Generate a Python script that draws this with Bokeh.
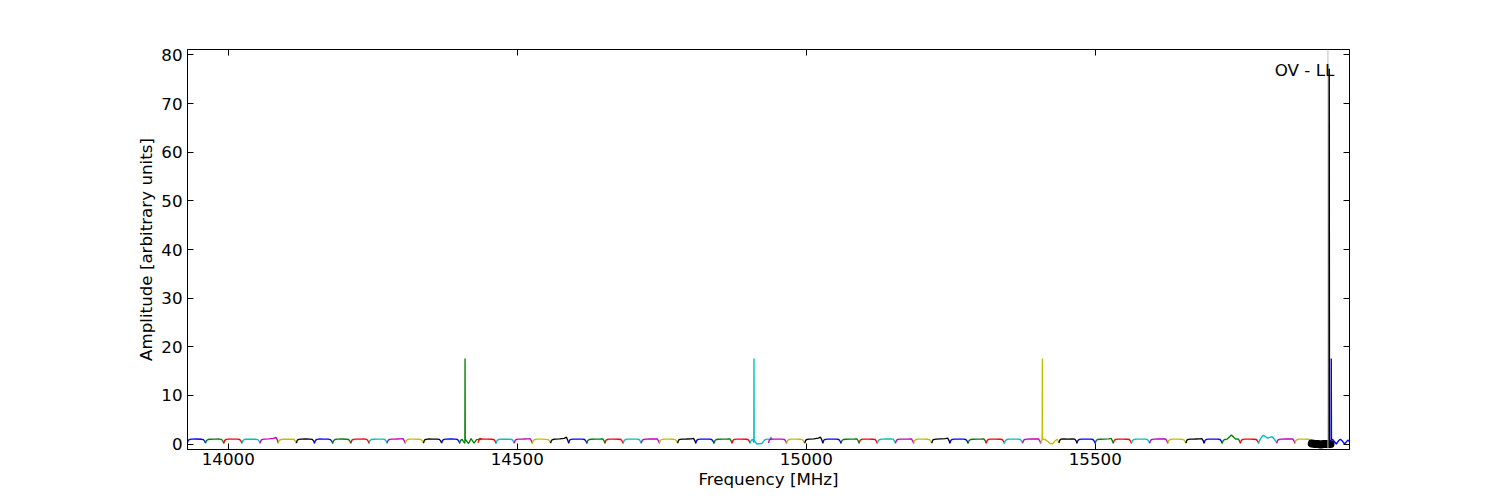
from bokeh.plotting import figure
from bokeh.models import Range1d, LinearAxis, FixedTicker, Span, Label
from bokeh.embed import file_html
from bokeh.resources import INLINE

FONT = "DejaVu Sans"
FS = "16.7px"

# ---------------- data ----------------
x_ticks = [14000, 14500, 15000, 15500]
y_ticks = [0, 10, 20, 30, 40, 50, 60, 70, 80]
x_lim = [13929.4, 15939.8]
y_lim = [-1.13, 81.13]

band_start = 13929.4   # MHz, lower edge of the first sub-band
band_width = 31.41     # MHz, sub-band width
cycle_colors = ["#0000ff", "#008000", "#ff0000", "#00bfbf", "#bf00bf", "#bfbf00", "#000000"]

# channel positions inside one sub-band (MHz from its lower edge)
chan_offsets = [0.0, 1.5, 4.0, 8.0, 15.7, 23.4, 27.4, 29.9, 31.41]

# amplitude of each regular sub-band at chan_offsets (None = listed separately below)
band_amps = [
    [0.30, 0.80, 0.95, 1.00, 1.02, 0.98, 0.90, 0.55, 0.15],  # 0
    [0.20, 0.70, 0.92, 0.98, 1.00, 1.02, 0.95, 0.60, 0.10],
    [0.15, 0.75, 0.95, 1.00, 1.00, 1.00, 0.92, 0.55, 0.10],
    [0.20, 0.70, 0.93, 1.00, 0.98, 0.97, 0.90, 0.55, 0.12],
    [0.20, 0.75, 0.95, 1.00, 1.05, 1.15, 1.35, 0.80, 0.15],
    [0.15, 0.70, 0.90, 0.98, 1.00, 0.98, 0.92, 0.55, 0.10],
    [0.20, 0.80, 0.95, 1.00, 1.02, 1.00, 0.95, 0.60, 0.12],
    [0.20, 0.75, 0.95, 1.02, 1.00, 1.00, 0.90, 0.55, 0.12],
    [0.15, 0.70, 0.93, 1.00, 1.02, 0.98, 0.92, 0.55, 0.10],
    [0.20, 0.75, 0.95, 1.00, 1.00, 1.02, 0.95, 0.60, 0.12],
    [0.15, 0.70, 0.92, 0.98, 1.00, 1.00, 0.93, 0.55, 0.10],  # 10
    [0.20, 0.75, 0.95, 1.00, 1.02, 1.05, 1.10, 0.60, 0.12],
    [0.20, 0.70, 0.92, 1.00, 1.00, 0.98, 0.90, 0.55, 0.12],
    [0.20, 0.80, 0.95, 1.02, 1.00, 1.00, 0.95, 0.60, 0.15],
    [0.20, 0.75, 0.95, 1.00, 1.02, 1.00, 0.92, 0.55, 0.10],
    None,                                                      # 15 (spike)
    [0.25, 0.80, 1.05, 1.02, 1.00, 0.98, 0.92, 0.55, 0.10],
    [0.15, 0.70, 0.92, 0.98, 1.00, 0.98, 0.92, 0.55, 0.10],
    [0.20, 0.75, 0.95, 1.00, 1.02, 1.05, 1.08, 0.60, 0.12],
    [0.20, 0.70, 0.92, 1.00, 1.00, 0.95, 0.90, 0.50, 0.10],
    [0.20, 0.75, 0.92, 1.00, 1.05, 1.15, 1.40, 0.70, 0.12],  # 20
    [0.20, 0.80, 0.95, 1.00, 1.00, 1.00, 0.92, 0.55, 0.10],
    [0.15, 0.70, 0.93, 0.98, 1.00, 1.02, 1.05, 0.60, 0.12],
    [0.20, 0.75, 0.95, 1.00, 1.00, 0.98, 0.92, 0.55, 0.10],
    [0.15, 0.70, 0.92, 1.00, 1.00, 1.00, 0.92, 0.55, 0.12],
    [0.20, 0.75, 0.95, 1.00, 1.02, 1.02, 1.05, 0.60, 0.12],
    [0.20, 0.75, 0.93, 1.00, 1.00, 0.98, 0.90, 0.50, 0.10],
    [0.20, 0.80, 0.95, 1.00, 1.02, 1.05, 1.15, 0.65, 0.12],
    [0.20, 0.75, 0.95, 1.00, 1.00, 1.00, 0.92, 0.55, 0.10],
    [0.15, 0.70, 0.92, 0.98, 1.00, 1.02, 1.05, 0.60, 0.12],
    [0.20, 0.75, 0.95, 1.00, 1.00, 0.98, 0.92, 0.55, 0.10],  # 30
    None,                                                      # 31 (spike)
    [0.20, 0.80, 1.05, 1.00, 1.00, 1.00, 0.95, 0.60, 0.12],
    [0.15, 0.70, 0.92, 1.00, 1.00, 0.98, 0.90, 0.50, 0.10],
    [0.20, 0.75, 0.95, 1.00, 1.05, 1.20, 1.40, 0.70, 0.12],
    [0.20, 0.80, 0.95, 1.00, 1.00, 1.00, 0.92, 0.55, 0.10],
    [0.15, 0.70, 0.93, 0.98, 1.00, 1.02, 1.05, 0.60, 0.12],
    [0.20, 0.75, 0.95, 1.00, 1.00, 0.98, 0.92, 0.55, 0.10],
    [0.15, 0.70, 0.92, 1.00, 1.02, 1.02, 1.00, 0.55, 0.12],
    [0.20, 0.75, 0.95, 1.00, 1.00, 1.02, 1.05, 0.60, 0.12],
    [0.20, 0.70, 0.92, 1.00, 1.00, 0.98, 0.90, 0.50, 0.10],  # 40
    [0.20, 0.80, 0.95, 1.00, 1.05, 1.10, 1.20, 0.65, 0.12],
    [0.20, 0.75, 0.95, 1.00, 1.00, 1.00, 0.92, 0.55, 0.10],
    [0.15, 0.70, 0.93, 0.98, 1.00, 1.02, 1.05, 0.60, 0.12],
    [0.20, 0.75, 0.95, 1.00, 1.00, 0.98, 0.92, 0.55, 0.10],
    [0.15, 0.70, 0.92, 1.00, 1.00, 1.00, 0.92, 0.55, 0.12],
    [0.20, 0.75, 0.95, 1.00, 1.02, 1.02, 1.05, 0.60, 0.12],
    None,                                                      # 47 (spike)
    [0.20, 0.80, 1.00, 1.02, 1.00, 1.05, 1.00, 0.60, 0.12],
    [0.20, 0.75, 0.95, 1.00, 1.00, 1.00, 0.92, 0.55, 0.10],
    [0.15, 0.70, 0.93, 0.98, 1.00, 1.05, 1.15, 0.60, 0.12],  # 50
    [0.20, 0.75, 0.95, 1.00, 1.00, 0.98, 0.92, 0.55, 0.10],
    [0.15, 0.70, 0.92, 1.00, 1.00, 1.00, 0.92, 0.55, 0.12],
    [0.20, 0.75, 0.95, 1.00, 1.02, 1.02, 1.05, 0.60, 0.12],
    [0.20, 0.70, 0.92, 1.00, 1.00, 0.98, 0.90, 0.50, 0.10],
    [0.20, 0.80, 0.95, 1.00, 1.02, 1.05, 1.10, 0.65, 0.12],
    [0.20, 0.75, 0.95, 1.00, 1.00, 1.00, 0.92, 0.55, 0.10],
    [0.15, 0.70, 0.93, 1.00, 1.85, 1.00, 1.05, 0.60, 0.12],
    [0.20, 0.75, 0.95, 1.00, 1.00, 0.98, 0.92, 0.55, 0.10],
    [0.15, 0.70, 1.20, 1.80, 1.20, 1.50, 0.92, 0.55, 0.12],
    [0.20, 0.75, 0.95, 1.00, 1.02, 1.02, 1.05, 0.60, 0.12],  # 60
    [0.20, 0.70, 0.92, 1.00, 1.00, 0.98, 0.90, 0.50, 0.10],
    None,                                                      # 62 (OV)
    None,                                                      # 63 (spike)
]

# sub-bands listed channel by channel (frequency MHz, amplitude)
special_freqs = {
    15: [14400.4, 14401.9, 14404.4, 14407.0, 14409.3, 14409.6, 14409.9, 14410.5,
         14415.7, 14420.0, 14425.2, 14429.5, 14433.0, 14436.0, 14438.0],
    31: [14903.1, 14904.6, 14907.1, 14909.2, 14909.5, 14909.8, 14911.5, 14914.5,
         14918.0, 14923.0, 14929.0, 14934.0, 14938.5, 14939.0, 14939.5, 14941.0],
    47: [15405.7, 15407.2, 15408.1, 15408.4, 15408.7, 15410.5, 15413.5, 15418.0,
         15422.0, 15426.0, 15430.0, 15434.0, 15437.1],
    62: [15874.5, 15880.0, 15885.0, 15890.0, 15895.0, 15900.0, 15903.6, 15904.0,
         15904.8, 15905.2, 15907.0],
    63: [15908.0, 15908.3, 15908.6, 15911.0, 15917.0, 15920.5, 15923.9, 15927.5,
         15931.3, 15937.0, 15939.8],
}
special_amps = {
    15: [0.25, 0.75, 0.95, 0.50, 0.15, 17.6, 0.90, 0.90, 0.10, 1.10, 0.20, 0.90,
         0.95, 1.15, 0.95],
    31: [0.25, 0.75, 0.95, 0.30, 17.6, 0.80, 0.40, 0.00, 0.05, 0.10, 0.95, 1.00,
         1.00, 1.50, 1.00, 0.90],
    47: [0.25, 0.70, 0.95, 17.6, 0.90, 1.00, 0.90, 0.50, 0.10, 0.05, 0.60, 1.00, 0.30],
    62: [0.10, 0.00, 0.00, -0.10, 0.00, 0.00, 0.00, 77.1, 77.1, 0.00, 0.00],
    63: [0.30, 17.6, 1.00, 0.90, 0.00, 0.60, 1.00, 0.60, 0.00, 0.80, 0.50],
}
ov_freq = 15902.5
ov_text = "OV - LL"
ov_text_pos = [15810.5, 76.9]

# ---------------- figure ----------------
p = figure(frame_width=1162, frame_height=400,
           x_range=Range1d(*x_lim), y_range=Range1d(*y_lim),
           output_backend="svg", toolbar_location=None,
           min_border_left=187, min_border_top=49, min_border_right=140,
           min_border_bottom=0)
p.background_fill_color = "white"
p.border_fill_color = "white"
p.outline_line_color = "black"
p.outline_line_width = 1
p.xgrid.visible = False
p.ygrid.visible = False

p.add_layout(Span(location=ov_freq, dimension="height", line_color="#c0c0c0", line_width=1))

LW = 1.35
for k, amps in enumerate(band_amps):
    col = cycle_colors[k % 7]
    if amps is None:
        xs = special_freqs[k]
        ys = special_amps[k]
    else:
        s = band_start + k * band_width
        xs = [s + o for o in chan_offsets]
        ys = amps
    p.line(xs, ys, line_color=col, line_width=LW)
    if k == 62:
        bx = [x for x, y in zip(xs, ys) if y < 5]
        by = [y for y in ys if y < 5]
        p.line(bx, by, line_color=col, line_width=8, line_cap="round")

p.add_layout(Label(x=ov_text_pos[0], y=ov_text_pos[1], text=ov_text,
                   text_font=FONT, text_font_size=FS, text_color="black",
                   text_baseline="alphabetic", text_align="left"))

def style_axis(ax, ticks):
    ax.ticker = FixedTicker(ticks=ticks)
    ax.major_tick_in = 6
    ax.major_tick_out = 0
    ax.minor_tick_in = 0
    ax.minor_tick_out = 0
    ax.axis_line_color = "black"
    ax.major_tick_line_color = "black"
    ax.major_label_text_font = FONT
    ax.major_label_text_font_size = FS
    ax.major_label_text_color = "black"
    ax.axis_label_text_font = FONT
    ax.axis_label_text_font_size = FS
    ax.axis_label_text_font_style = "normal"
    ax.axis_label_text_color = "black"

style_axis(p.xaxis[0], x_ticks)
style_axis(p.yaxis[0], y_ticks)
p.xaxis[0].axis_label = "Frequency [MHz]"
p.yaxis[0].axis_label = "Amplitude [arbitrary units]"
p.xaxis[0].major_label_standoff = 3
p.xaxis[0].axis_label_standoff = 1
p.yaxis[0].major_label_standoff = 5
p.yaxis[0].axis_label_standoff = 2

top_ax = LinearAxis()
style_axis(top_ax, x_ticks)
top_ax.major_label_overrides = {t: "" for t in x_ticks}
top_ax.major_label_text_font_size = "1px"
top_ax.major_label_standoff = 0
p.add_layout(top_ax, "above")

right_ax = LinearAxis()
style_axis(right_ax, y_ticks)
right_ax.major_label_overrides = {t: "" for t in y_ticks}
right_ax.major_label_text_font_size = "1px"
right_ax.major_label_standoff = 0
p.add_layout(right_ax, "right")

open("out.html", "w").write(file_html(p, INLINE))
